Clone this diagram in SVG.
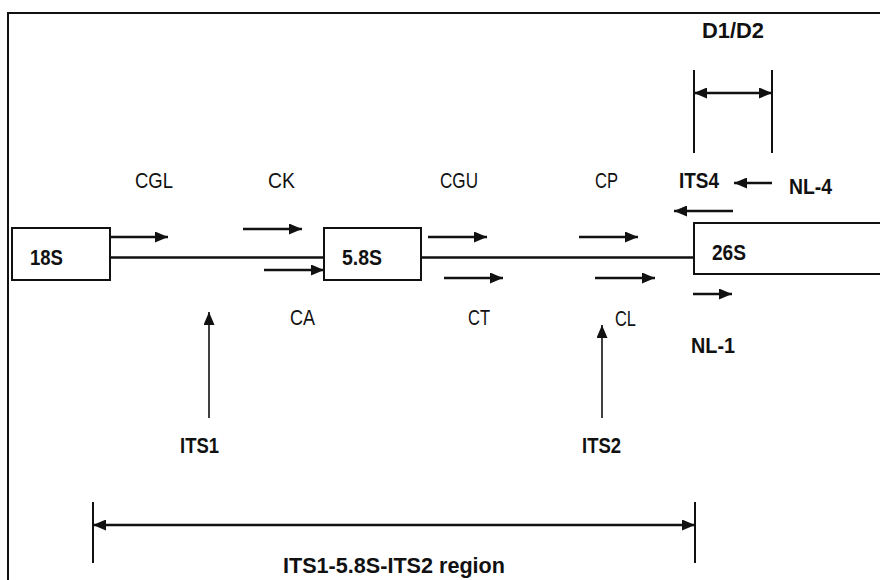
<svg xmlns="http://www.w3.org/2000/svg" width="880" height="580" viewBox="0 0 880 580">
<style>
.t{font-family:"Liberation Sans",Arial,sans-serif;font-size:22px;fill:#111}
.b{font-weight:bold}
.box{fill:#fff;stroke:#111;stroke-width:2}
.ln{stroke:#111;stroke-width:2.5;fill:none}
.ar{stroke:#111;stroke-width:2.5;fill:none;marker-end:url(#ah)}
.ar2{stroke:#111;stroke-width:2.5;fill:none;marker-end:url(#ah);marker-start:url(#ah)}
.va{stroke:#111;stroke-width:1.6;fill:none;marker-end:url(#ah)}
.tk{stroke:#111;stroke-width:2;fill:none}
</style>
<defs>
<marker id="ah" viewBox="0 0 13 11" refX="13" refY="5.5" markerWidth="13" markerHeight="11" markerUnits="userSpaceOnUse" orient="auto-start-reverse">
<path d="M0,0 L13,5.5 L0,11 Z" fill="#111"/>
</marker>
</defs>
<rect width="880" height="580" fill="#fff"/>
<g id="frame"><path class="tk" d="M8 580 V13 H880"/></g>
<g id="connectors">
<path class="ln" d="M110 257.5 H324 M421 257.5 H694"/>
<path class="ar" d="M110 237 H168"/>
<path class="ar" d="M243 229 H302"/>
<path class="ar" d="M264 270 H324"/>
<path class="ar" d="M428 237 H487"/>
<path class="ar" d="M444 278 H503"/>
<path class="ar" d="M579 237 H638"/>
<path class="ar" d="M595 278 H655"/>
<path class="ar" d="M693 294 H732"/>
<path class="ar" d="M733 211 H674"/>
<path class="ar" d="M772 183 H734"/>
<path class="tk" d="M694 70 V153 M772 70 V153"/>
<path class="ar2" d="M694 93 H772"/>
<path class="va" d="M209 418 V312"/>
<path class="va" d="M602 418 V325"/>
<path class="tk" d="M93 502 V563 M695 502 V563"/>
<path class="ar2" d="M93 525 H695"/>
</g>
<g id="n18S"><rect class="box" x="12" y="228" width="98" height="52"/><text class="t b" x="30" y="265" textLength="33" lengthAdjust="spacingAndGlyphs">18S</text></g>
<g id="n58S"><rect class="box" x="324" y="228" width="97" height="52"/><text class="t b" x="342" y="265" textLength="40" lengthAdjust="spacingAndGlyphs">5.8S</text></g>
<g id="n26S"><rect class="box" x="694" y="223" width="200" height="51"/><text class="t b" x="712" y="260" textLength="34" lengthAdjust="spacingAndGlyphs">26S</text></g>
<g id="labels">
<text class="t" x="135" y="188" textLength="38" lengthAdjust="spacingAndGlyphs">CGL</text>
<text class="t" x="268" y="188" textLength="27" lengthAdjust="spacingAndGlyphs">CK</text>
<text class="t" x="440" y="188" textLength="38" lengthAdjust="spacingAndGlyphs">CGU</text>
<text class="t" x="595" y="188" textLength="23" lengthAdjust="spacingAndGlyphs">CP</text>
<text class="t b" x="679" y="188" textLength="40" lengthAdjust="spacingAndGlyphs">ITS4</text>
<text class="t b" x="789" y="194" textLength="43" lengthAdjust="spacingAndGlyphs">NL-4</text>
<text class="t b" x="702" y="38" textLength="62" lengthAdjust="spacingAndGlyphs">D1/D2</text>
<text class="t" x="290" y="325" textLength="25" lengthAdjust="spacingAndGlyphs">CA</text>
<text class="t" x="468" y="325" textLength="22" lengthAdjust="spacingAndGlyphs">CT</text>
<text class="t" x="615" y="326" textLength="21" lengthAdjust="spacingAndGlyphs">CL</text>
<text class="t b" x="691" y="353" textLength="44" lengthAdjust="spacingAndGlyphs">NL-1</text>
<text class="t b" x="180" y="453" textLength="39" lengthAdjust="spacingAndGlyphs">ITS1</text>
<text class="t b" x="582" y="453" textLength="39" lengthAdjust="spacingAndGlyphs">ITS2</text>
<text class="t b" x="283" y="573" textLength="222" lengthAdjust="spacingAndGlyphs">ITS1-5.8S-ITS2 region</text>
</g>
</svg>
